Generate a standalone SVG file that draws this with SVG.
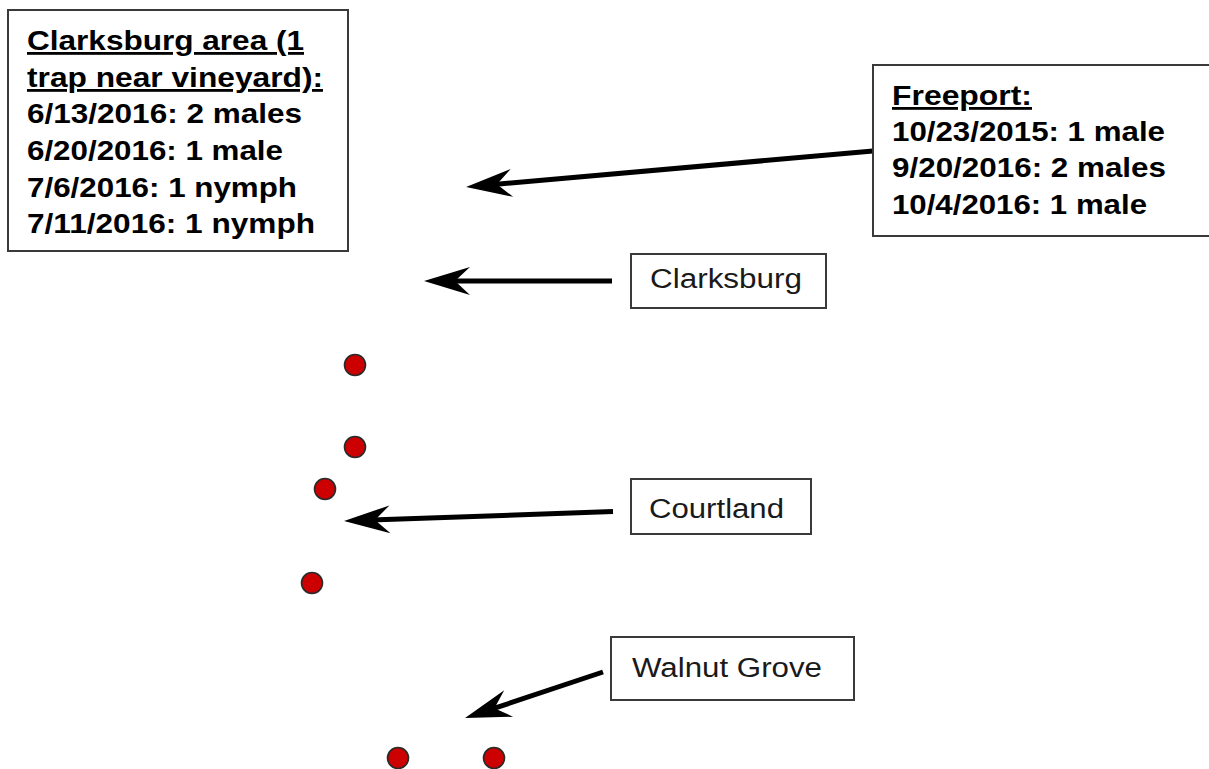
<svg xmlns="http://www.w3.org/2000/svg" width="1209" height="769" viewBox="0 0 1209 769">
<style>
.box{fill:#fff;stroke:#3a3a3a;stroke-width:2}
.b{font-family:"Liberation Sans",Arial,sans-serif;font-weight:bold;font-size:28px;fill:#000}
.u{text-decoration:underline}
.r{font-family:"Liberation Sans",Arial,sans-serif;font-size:27px;fill:#1a1a1a}
.conn{stroke:#000;stroke-width:5;fill:none}
.dot{fill:#cc0000;stroke:#2a2a2a;stroke-width:1.6}
</style>
<defs>
<marker id="ah" markerUnits="userSpaceOnUse" orient="auto" overflow="visible" refX="0" refY="0" markerWidth="1" markerHeight="1">
<path d="M20,0 L-26,-14 L-11,0 L-26,14 Z" fill="#000"/>
</marker>
</defs>
<rect width="1209" height="769" fill="#fff"/>
<g id="connectors">
<path class="conn" d="M873,151 L486,185.2" marker-end="url(#ah)"/>
<path class="conn" d="M612,281 L444,281" marker-end="url(#ah)"/>
<path class="conn" d="M613,511.5 L364,520.3" marker-end="url(#ah)"/>
<path class="conn" d="M603,672 L484,711.7" marker-end="url(#ah)"/>
</g>
<g id="clarksburg-area">
<rect class="box" x="8" y="10" width="340" height="241"/>
<text class="b u" x="27" y="50" textLength="277" lengthAdjust="spacingAndGlyphs">Clarksburg area (1</text>
<text class="b u" x="27" y="87" textLength="296" lengthAdjust="spacingAndGlyphs">trap near vineyard):</text>
<text class="b" x="27" y="123" textLength="275" lengthAdjust="spacingAndGlyphs">6/13/2016: 2 males</text>
<text class="b" x="27" y="160" textLength="256" lengthAdjust="spacingAndGlyphs">6/20/2016: 1 male</text>
<text class="b" x="27" y="197" textLength="270" lengthAdjust="spacingAndGlyphs">7/6/2016: 1 nymph</text>
<text class="b" x="27" y="233" textLength="288" lengthAdjust="spacingAndGlyphs">7/11/2016: 1 nymph</text>
</g>
<g id="freeport">
<rect class="box" x="873" y="65" width="345" height="171"/>
<text class="b u" x="892" y="105" textLength="140" lengthAdjust="spacingAndGlyphs">Freeport:</text>
<text class="b" x="892" y="141" textLength="273" lengthAdjust="spacingAndGlyphs">10/23/2015: 1 male</text>
<text class="b" x="892" y="177" textLength="274" lengthAdjust="spacingAndGlyphs">9/20/2016: 2 males</text>
<text class="b" x="892" y="214" textLength="255" lengthAdjust="spacingAndGlyphs">10/4/2016: 1 male</text>
</g>
<g id="clarksburg">
<rect class="box" x="631" y="254" width="195" height="54"/>
<text class="r" x="650" y="288" textLength="152" lengthAdjust="spacingAndGlyphs">Clarksburg</text>
</g>
<g id="courtland">
<rect class="box" x="631" y="479" width="180" height="55"/>
<text class="r" x="649" y="518" textLength="135" lengthAdjust="spacingAndGlyphs">Courtland</text>
</g>
<g id="walnut-grove">
<rect class="box" x="611" y="637" width="243" height="63"/>
<text class="r" x="632" y="677" textLength="190" lengthAdjust="spacingAndGlyphs">Walnut Grove</text>
</g>
<g id="dots">
<circle class="dot" cx="355" cy="365" r="10.5"/>
<circle class="dot" cx="355" cy="447" r="10.5"/>
<circle class="dot" cx="325" cy="489" r="10.5"/>
<circle class="dot" cx="312" cy="583" r="10.5"/>
<circle class="dot" cx="398" cy="758" r="10.5"/>
<circle class="dot" cx="494" cy="758" r="10.5"/>
</g>
</svg>
